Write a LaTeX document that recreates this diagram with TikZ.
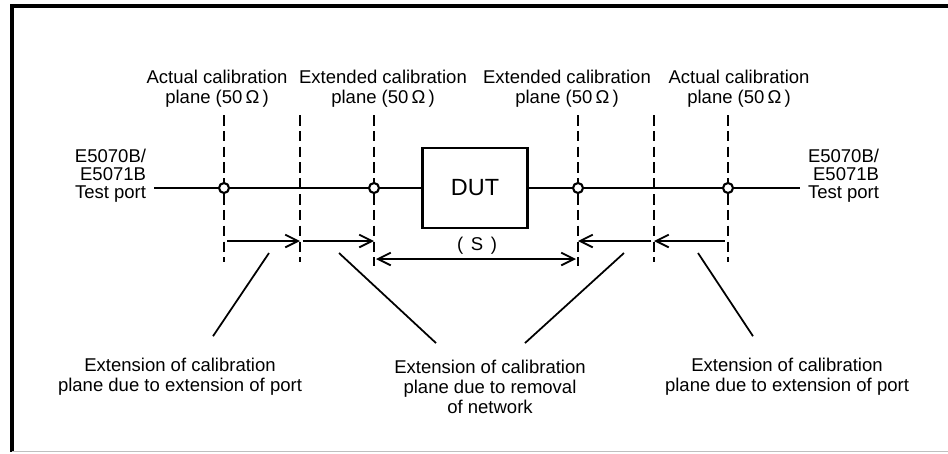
\documentclass[tikz,border=0pt]{standalone}
\usepackage{fontspec}
\setmainfont{Liberation Sans}
\usetikzlibrary{arrows.meta,positioning,calc}

\begin{document}
\begin{tikzpicture}[
  x=0.3mm, y=-0.3mm,
  >={Straight Barb[length=3.8mm,width=3.8mm]},
  lbl/.style={font=\fontsize{15.8}{17}\selectfont, align=center, inner sep=0pt},
  portlbl/.style={lbl, font=\fontsize{15.8}{15.3}\selectfont, align=right, outer xsep=2.4mm},
  plane/.style={dash pattern=on 9pt off 4.5pt, line width=2pt},
  wire/.style={line width=2.1pt},
  extarrow/.style={line width=1.6pt},
  leader/.style={line width=1.5pt},
  joint/.style={circle, draw, line width=1.8pt, fill=white, minimum size=3mm, inner sep=0pt},
  dutbox/.style={draw, line width=2pt, minimum width=31.5mm, minimum height=24mm,
    font=\fontsize{20}{21}\selectfont},
]
  \useasboundingbox (0,0) rectangle (948,453);

  % frame
  \draw[line width=2.6pt] (12,452) -- (12,6) -- (948,6);
  \draw[black!25, line width=0.8pt] (12,451) -- (948,451);

  % calibration planes
  \foreach \name/\px/\pb in {pa/224/262, pb/300/262, pc/374/266,
                             pd/578/266, pe/654/262, pf/728/262} {
    \draw[plane] (\px,115) -- (\px,\pb);
    \coordinate (\name) at (\px,188);
  }

  % plane labels
  \node[lbl] (actL) at (217,89) {Actual calibration\\plane (50\,Ω\,)};
  \node[lbl] (extdL) at (383,89) {Extended calibration\\plane (50\,Ω\,)};
  \node[lbl] (extdR) at (567,89) {Extended calibration\\plane (50\,Ω\,)};
  \node[lbl] (actR) at (739,89) {Actual calibration\\plane (50\,Ω\,)};

  % test ports and DUT
  \node[portlbl, anchor=east] (portL) at (154,176) {E5070B/\\E5071B\\Test port};
  \node[portlbl, anchor=west] (portR) at (800,176) {E5070B/\\E5071B\\Test port};
  \node[dutbox] (dut) at (475,188) {DUT};

  \node[joint] (ca) at (pa) {};
  \node[joint] (cc) at (pc) {};
  \node[joint] (cd) at (pd) {};
  \node[joint] (cf) at (pf) {};

  \draw[wire] (portL.east |- ca) -- (ca) -- (cc) -- (dut);
  \draw[wire] (dut) -- (cd) -- (cf) -- (portR.west |- cf);

  % extensions
  \draw[extarrow, ->, shorten <=1mm] (pa |- 0,241) -- (pb |- 0,241);
  \draw[extarrow, ->, shorten <=0.8mm] (pb |- 0,241) -- (pc |- 0,241);
  \draw[extarrow, ->, shorten <=0.8mm] (pe |- 0,241) -- (pd |- 0,241);
  \draw[extarrow, ->, shorten <=1mm] (pf |- 0,241) -- (pe |- 0,241);
  \draw[extarrow, <->, shorten <=0.6mm, shorten >=0.6mm] (pc |- 0,259) -- (pd |- 0,259);
  \node[lbl] (sp) at (477,246) {(\hspace{2.3mm}S\hspace{2.3mm})};

  % descriptions
  \node[lbl] (descL) at (180,377) {Extension of calibration\\plane due to extension of port};
  \node[lbl] (descM) at (490,387) {Extension of calibration\\plane due to removal\\of network};
  \node[lbl] (descR) at (787,377) {Extension of calibration\\plane due to extension of port};

  \coordinate (ta) at (269,253);
  \coordinate (tb) at (339,253);
  \coordinate (te) at (624,253);
  \coordinate (tf) at (698,253);
  \draw[leader] (ta) -- ($(descL.north)+(33,-22)$);
  \draw[leader] (tb) -- ($(descM.north)+(-54,-17)$);
  \draw[leader] (te) -- ($(descM.north)+(35,-17)$);
  \draw[leader] (tf) -- ($(descR.north)+(-34,-22)$);
\end{tikzpicture}
\end{document}
